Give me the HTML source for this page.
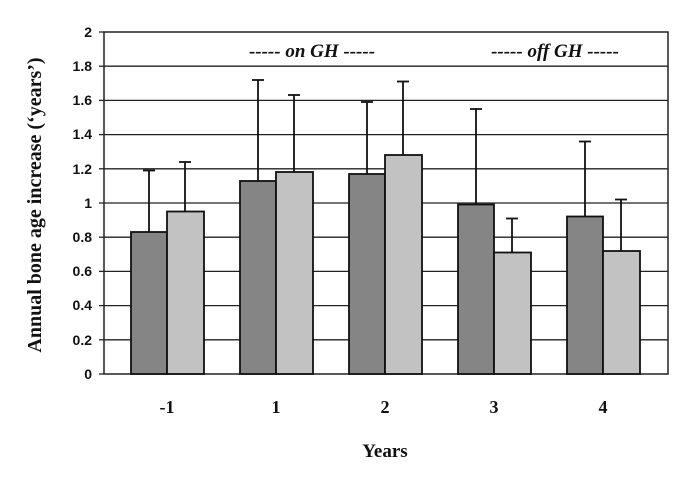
<!DOCTYPE html>
<html><head><style>body{margin:0;background:#fff}</style></head><body>
<svg width="688" height="478" xmlns="http://www.w3.org/2000/svg" font-family="Liberation Sans, sans-serif">
<rect width="688" height="478" fill="#fff"/>
<g stroke="#222" stroke-width="1.3">
<line x1="104" y1="66.2" x2="668" y2="66.2"/>
<line x1="104" y1="100.4" x2="668" y2="100.4"/>
<line x1="104" y1="134.6" x2="668" y2="134.6"/>
<line x1="104" y1="168.8" x2="668" y2="168.8"/>
<line x1="104" y1="203" x2="668" y2="203"/>
<line x1="104" y1="237.2" x2="668" y2="237.2"/>
<line x1="104" y1="271.4" x2="668" y2="271.4"/>
<line x1="104" y1="305.6" x2="668" y2="305.6"/>
<line x1="104" y1="339.8" x2="668" y2="339.8"/>
</g>
<rect x="104" y="32" width="564" height="342" fill="none" stroke="#222" stroke-width="1.5"/>
<g stroke="#222" stroke-width="1.3">
<line x1="99" y1="32" x2="104" y2="32"/><line x1="99" y1="66.2" x2="104" y2="66.2"/><line x1="99" y1="100.4" x2="104" y2="100.4"/><line x1="99" y1="134.6" x2="104" y2="134.6"/><line x1="99" y1="168.8" x2="104" y2="168.8"/><line x1="99" y1="203" x2="104" y2="203"/><line x1="99" y1="237.2" x2="104" y2="237.2"/><line x1="99" y1="271.4" x2="104" y2="271.4"/><line x1="99" y1="305.6" x2="104" y2="305.6"/><line x1="99" y1="339.8" x2="104" y2="339.8"/><line x1="99" y1="374" x2="104" y2="374"/>
</g>
<g stroke="#111" stroke-width="1.8">
<line x1="149" y1="170.5" x2="149" y2="232"/><line x1="143" y1="170.5" x2="155" y2="170.5"/>
<rect x="131" y="232" width="36" height="142" fill="#858585"/>
<line x1="185" y1="162" x2="185" y2="211.5"/><line x1="179" y1="162" x2="191" y2="162"/>
<rect x="167" y="211.5" width="37" height="162.5" fill="#c2c2c2"/>

<line x1="258" y1="80" x2="258" y2="181"/><line x1="252" y1="80" x2="264" y2="80"/>
<rect x="240" y="181" width="36" height="193" fill="#858585"/>
<line x1="294" y1="95" x2="294" y2="172"/><line x1="288" y1="95" x2="300" y2="95"/>
<rect x="276" y="172" width="37" height="202" fill="#c2c2c2"/>

<line x1="367" y1="102" x2="367" y2="174"/><line x1="361" y1="102" x2="373" y2="102"/>
<rect x="349" y="174" width="36" height="200" fill="#858585"/>
<line x1="403" y1="81.5" x2="403" y2="155"/><line x1="397" y1="81.5" x2="409" y2="81.5"/>
<rect x="385" y="155" width="37" height="219" fill="#c2c2c2"/>

<line x1="476" y1="109" x2="476" y2="204.5"/><line x1="470" y1="109" x2="482" y2="109"/>
<rect x="458" y="204.5" width="36" height="169.5" fill="#858585"/>
<line x1="512" y1="218.5" x2="512" y2="252.5"/><line x1="506" y1="218.5" x2="518" y2="218.5"/>
<rect x="494" y="252.5" width="37" height="121.5" fill="#c2c2c2"/>

<line x1="585" y1="141.5" x2="585" y2="216.5"/><line x1="579" y1="141.5" x2="591" y2="141.5"/>
<rect x="567" y="216.5" width="36" height="157.5" fill="#858585"/>
<line x1="621" y1="199.5" x2="621" y2="251"/><line x1="615" y1="199.5" x2="627" y2="199.5"/>
<rect x="603" y="251" width="37" height="123" fill="#c2c2c2"/>
</g>
<g font-size="14" font-weight="bold" text-anchor="end" fill="#111">
<text x="92" y="37">2</text><text x="92" y="71">1.8</text><text x="92" y="105">1.6</text><text x="92" y="139">1.4</text><text x="92" y="174">1.2</text><text x="92" y="208">1</text><text x="92" y="242">0.8</text><text x="92" y="276">0.6</text><text x="92" y="310">0.4</text><text x="92" y="345">0.2</text><text x="92" y="379">0</text>
</g>
<g font-family="Liberation Serif, serif" font-size="18" font-weight="bold" text-anchor="middle" fill="#111">
<text x="167" y="413">-1</text><text x="276" y="413">1</text><text x="385" y="413">2</text><text x="494" y="413">3</text><text x="603" y="413">4</text>
<text x="385" y="457" font-size="19">Years</text>
<text transform="translate(41,205) rotate(-90)" font-size="20">Annual bone age increase (‘years’)</text>
<text x="312" y="57" font-style="italic" font-size="19">----- on GH -----</text>
<text x="555" y="57" font-style="italic" font-size="19">----- off GH -----</text>
</g>
</svg>
</body></html>
